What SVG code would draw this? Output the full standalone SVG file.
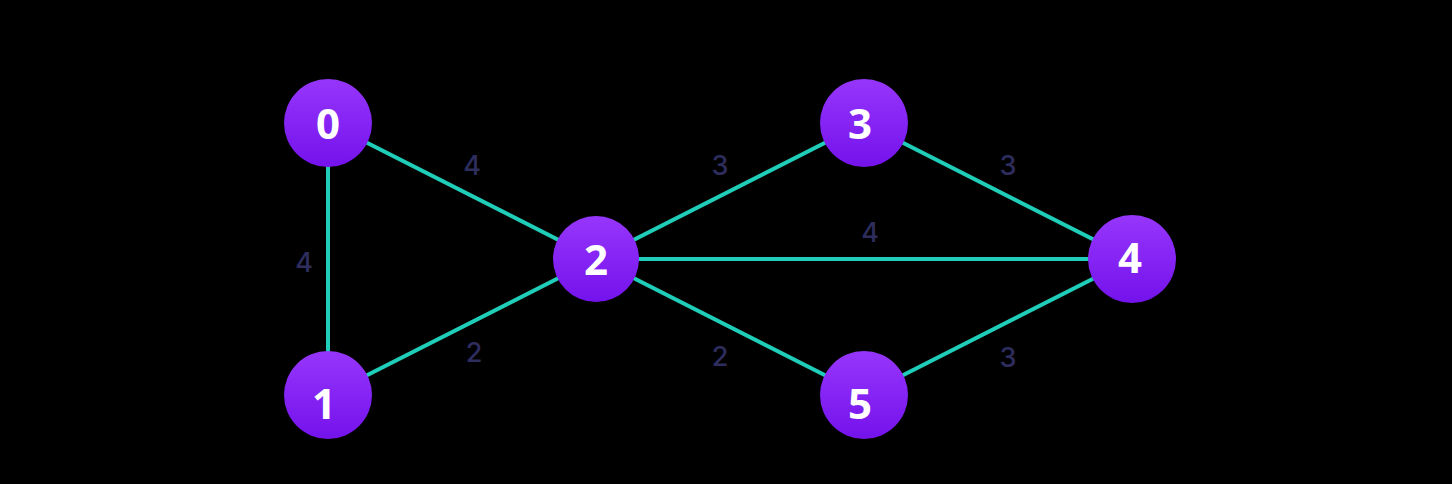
<svg xmlns="http://www.w3.org/2000/svg" width="1452" height="484" viewBox="0 0 1452 484">
<defs>
<linearGradient id="ng" x1="0" y1="0" x2="0" y2="1">
<stop offset="0" stop-color="#9636fb"/>
<stop offset="1" stop-color="#7412ec"/>
</linearGradient>
</defs>
<style>
.edge{stroke:#1fcdb8;stroke-width:4;fill:none}
.node{fill:url(#ng)}
.nl{font-family:"Open Sans","DejaVu Sans",sans-serif;font-weight:700;font-size:42px;fill:#ffffff;text-anchor:middle;dominant-baseline:central}
.el{font-family:Inter,"Liberation Sans",Arial,sans-serif;font-weight:500;font-size:27px;fill:#2e2d5e;text-anchor:middle;dominant-baseline:central}
</style>
<rect width="1452" height="484" fill="#000000"/>
<g id="connectors">
<line class="edge" x1="328" y1="123" x2="328" y2="395"/>
<line class="edge" x1="328" y1="123" x2="596" y2="259"/>
<line class="edge" x1="328" y1="395" x2="596" y2="259"/>
<line class="edge" x1="596" y1="259" x2="864" y2="123"/>
<line class="edge" x1="596" y1="259" x2="1132" y2="259"/>
<line class="edge" x1="596" y1="259" x2="864" y2="395"/>
<line class="edge" x1="864" y1="123" x2="1132" y2="259"/>
<line class="edge" x1="864" y1="395" x2="1132" y2="259"/>
</g>
<g id="edge-labels">
<text class="el" x="304" y="262">4</text>
<text class="el" x="472" y="165">4</text>
<text class="el" x="474" y="352">2</text>
<text class="el" x="720" y="165">3</text>
<text class="el" x="870" y="232">4</text>
<text class="el" x="720" y="356">2</text>
<text class="el" x="1008" y="165">3</text>
<text class="el" x="1008" y="357">3</text>
</g>
<g id="node-0"><circle class="node" cx="328" cy="123" r="44"/><text class="nl" x="328" y="122">0</text></g>
<g id="node-1"><circle class="node" cx="328" cy="395" r="44"/><text class="nl" x="324" y="402">1</text></g>
<g id="node-2"><circle class="node" cx="596" cy="259" r="43"/><text class="nl" x="596" y="258">2</text></g>
<g id="node-3"><circle class="node" cx="864" cy="123" r="44"/><text class="nl" x="860" y="122">3</text></g>
<g id="node-4"><circle class="node" cx="1132" cy="259" r="44"/><text class="nl" x="1130" y="256">4</text></g>
<g id="node-5"><circle class="node" cx="864" cy="395" r="44"/><text class="nl" x="860" y="402">5</text></g>
</svg>
